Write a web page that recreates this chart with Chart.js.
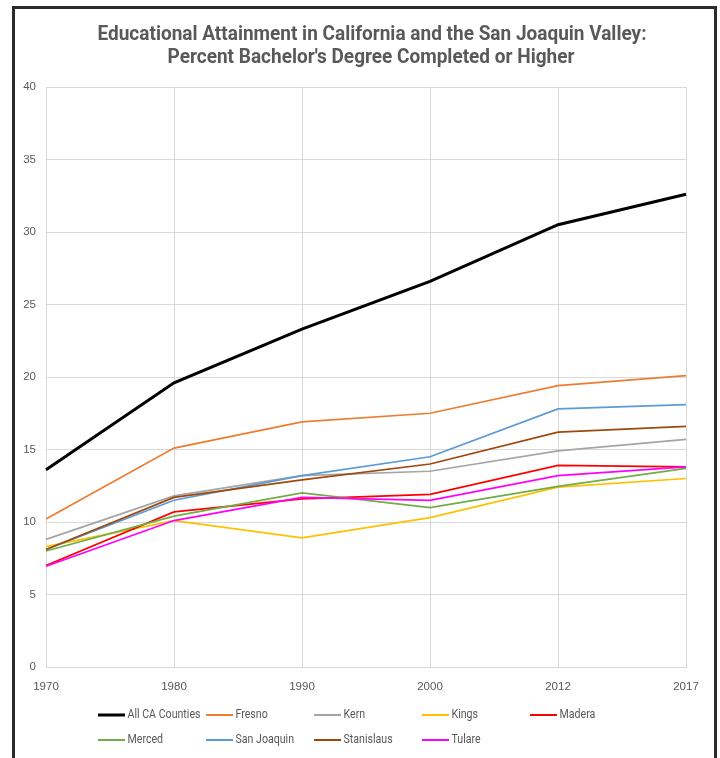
<!DOCTYPE html>
<html>
<head>
<meta charset="utf-8">
<script src="https://cdn.jsdelivr.net/npm/chart.js@4/dist/chart.umd.min.js"></script>
<style>
  html, body { margin: 0; padding: 0; background: #ffffff; }
  body { width: 720px; height: 758px; position: relative; overflow: hidden; }
  #frame {
    position: absolute; left: 12px; top: 6px; width: 699px; height: 820px;
    border: 3px solid #2b2b2b; box-sizing: content-box;
  }
  #wrap { position: absolute; left: 0; top: 0; width: 720px; height: 758px; }
</style>
</head>
<body>
<div id="frame"></div>
<div id="wrap"><canvas id="chart" width="720" height="758"></canvas></div>
<script>
// Survey years along the horizontal axis
const years = ['1970', '1980', '1990', '2000', '2012', '2017'];

// Percent of adults with a bachelor's degree or higher
const allCaCounties = [13.6, 19.6, 23.3, 26.6, 30.5, 32.6];
const fresno        = [10.2, 15.1, 16.9, 17.5, 19.4, 20.1];
const kern          = [8.8, 11.8, 13.2, 13.5, 14.9, 15.7];
const kings         = [8.3, 10.1, 8.9, 10.3, 12.4, 13.0];
const madera        = [7.0, 10.7, 11.6, 11.9, 13.9, 13.8];
const merced        = [8.0, 10.4, 12.0, 11.0, 12.45, 13.7];
const sanJoaquin    = [8.1, 11.5, 13.2, 14.5, 17.8, 18.1];
const stanislaus    = [8.1, 11.7, 12.9, 14.0, 16.2, 16.6];
const tulare        = [6.95, 10.1, 11.7, 11.5, 13.2, 13.8];

const seriesNames = ['All CA Counties', 'Fresno', 'Kern', 'Kings', 'Madera',
                     'Merced', 'San Joaquin', 'Stanislaus', 'Tulare'];
const seriesData = [allCaCounties, fresno, kern, kings, madera,
                    merced, sanJoaquin, stanislaus, tulare];
const seriesColors = ['#000000', '#ED7D31', '#A5A5A5', '#FFC000', '#FF0000',
                      '#70AD47', '#5B9BD5', '#9E480E', '#FF00FF'];

const titleLines = ['Educational Attainment in California and the San Joaquin Valley:',
                    "Percent Bachelor's Degree Completed or Higher"];

const TICK_FONT = "'Liberation Sans', Arial, sans-serif";
const TEXT = '#595959';
const GRID = '#D9D9D9';

const datasets = seriesNames.map((name, i) => ({
  label: name,
  data: seriesData[i],
  borderColor: seriesColors[i],
  backgroundColor: seriesColors[i],
  borderWidth: i === 0 ? 3 : 1.75,
  pointRadius: 0,
  pointHoverRadius: 0,
  tension: 0,
  fill: false,
  order: seriesNames.length - i
}));

// Draw text squeezed horizontally so it reads as a condensed face
function condensedText(ctx, text, x, y, squeeze, align) {
  const w = ctx.measureText(text).width * squeeze;
  const left = align === 'center' ? x - w / 2 : x;
  ctx.save();
  ctx.translate(left, y);
  ctx.scale(squeeze, 1);
  ctx.textAlign = 'left';
  ctx.fillText(text, 0, 0);
  ctx.restore();
}

// Two-line heading in a bold condensed style
const headingPlugin = {
  id: 'heading',
  afterDraw(chart) {
    const ctx = chart.ctx;
    ctx.save();
    ctx.fillStyle = TEXT;
    ctx.font = "bold 21px Roboto, 'DejaVu Sans', sans-serif";
    ctx.textBaseline = 'alphabetic';
    const squeeze = 549 / ctx.measureText(titleLines[0]).width;
    condensedText(ctx, titleLines[0], 372, 40, squeeze, 'center');
    condensedText(ctx, titleLines[1], 371, 63, squeeze, 'center');
    ctx.restore();
  }
};

// Legend laid out on a fixed five-column grid below the axis
const gridLegendPlugin = {
  id: 'gridLegend',
  afterDraw(chart) {
    const ctx = chart.ctx;
    ctx.save();
    ctx.font = "13px Roboto, 'DejaVu Sans', sans-serif";
    ctx.textBaseline = 'middle';
    const squeeze = 73 / ctx.measureText(seriesNames[0]).width;
    chart.data.datasets.forEach((ds, i) => {
      const col = i % 5, row = Math.floor(i / 5);
      const x0 = 98 + col * 108;
      const y = 715 + row * 25;
      ctx.strokeStyle = ds.borderColor;
      ctx.lineWidth = i === 0 ? 3 : 2;
      ctx.beginPath();
      ctx.moveTo(x0, y);
      ctx.lineTo(x0 + 27, y);
      ctx.stroke();
      ctx.fillStyle = TEXT;
      condensedText(ctx, ds.label, x0 + 29.5, y, squeeze, 'left');
    });
    ctx.restore();
  }
};

new Chart(document.getElementById('chart'), {
  type: 'line',
  data: { labels: years, datasets },
  plugins: [headingPlugin, gridLegendPlugin],
  options: {
    responsive: false,
    animation: false,
    layout: { padding: { top: 87, right: 34, bottom: 0, left: 0 } },
    plugins: {
      legend: { display: false },
      title: { display: false },
      tooltip: { enabled: false }
    },
    scales: {
      x: {
        type: 'category',
        offset: false,
        grid: { color: GRID, lineWidth: 1, drawTicks: false },
        border: { color: GRID },
        ticks: { color: TEXT, font: { family: TICK_FONT, size: 11.5 }, padding: 13, maxRotation: 0, autoSkip: false },
        afterFit(s) { s.height = 91; }
      },
      y: {
        min: 0, max: 40,
        grid: { color: GRID, lineWidth: 1, drawTicks: false },
        border: { color: GRID },
        ticks: { stepSize: 5, color: TEXT, font: { family: TICK_FONT, size: 11.5 }, padding: 10 },
        afterFit(s) { s.width = 46; }
      }
    }
  }
});
</script>
</body>
</html>
